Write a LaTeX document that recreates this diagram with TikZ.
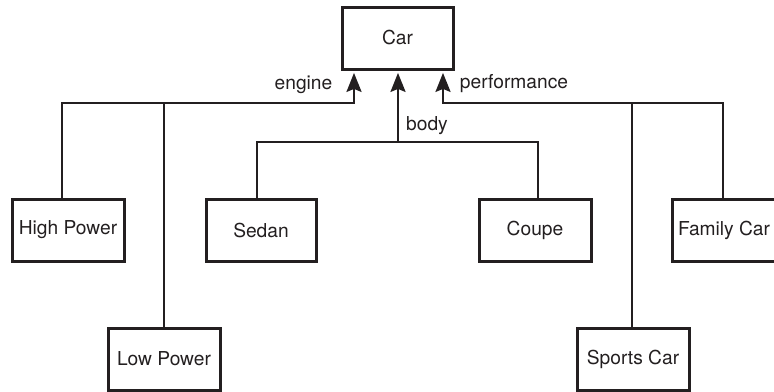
\documentclass[tikz,border=0pt]{standalone}
\usepackage{fontspec}
\setmainfont{TeX Gyre Heros}
\usetikzlibrary{arrows.meta,positioning}
\definecolor{inkgray}{RGB}{35,31,32}

\begin{document}
\begin{tikzpicture}[
    x=0.5pt, y=-0.5pt,
    part/.style={draw=inkgray,line width=1.5pt,minimum width=56pt,minimum height=31pt,inner sep=0pt,font=\fontsize{9.6}{11}\selectfont,text=inkgray},
    lbl/.style={font=\fontsize{9.6}{11}\selectfont,text=inkgray,inner sep=0pt},
    link/.style={draw=inkgray,line width=1.2pt},
    >={Stealth[length=9.5pt,width=7.5pt,inset=1.5pt]}
]
\useasboundingbox (0,0) rectangle (774,391);
% Root
\node[part,minimum width=55.5pt] (car) at (397.5,38) {Car};

% engine
\node[part] (high) at (68,230) {High Power};
\node[part] (low) at (164,359) {Low Power};
\coordinate (engine) at (354,103);
\coordinate (highj) at (62,103);
\draw[link,->,shorten >=1.2pt] (high.north -| highj) |- (engine) -- (car.south -| engine);
\draw[link] (low.north) -- (low.north |- engine);
\node[lbl] (englbl) at (303.5,85) {engine};

% body
\node[part,minimum width=55pt] (sedan) at (261,230) {Sedan};
\node[part] (coupe) at (535,230) {Coupe};
\coordinate (body) at (398,142);
\coordinate (sedanj) at (257,142);
\coordinate (coupej) at (538,142);
\draw[link,->,shorten >=1.2pt] (body) -- (car.south -| body);
\draw[link] (sedan.north -| sedanj) |- (body) -| (coupe.north -| coupej);
\node[lbl] (bodylbl) at (427,126) {body};

% performance
\node[part] (sports) at (633,359) {Sports Car};
\node[part,minimum width=52pt] (family) at (724,230) {Family Car};
\coordinate (perf) at (443,103);
\coordinate (familyj) at (723,103);
\coordinate (sportsj) at (632,103);
\draw[link,->,shorten >=1.2pt] (family.north -| familyj) |- (perf) -- (car.south -| perf);
\draw[link] (sports.north -| sportsj) -- (sportsj);
\node[lbl] (perflbl) at (514,84) {performance};
\end{tikzpicture}
\end{document}
